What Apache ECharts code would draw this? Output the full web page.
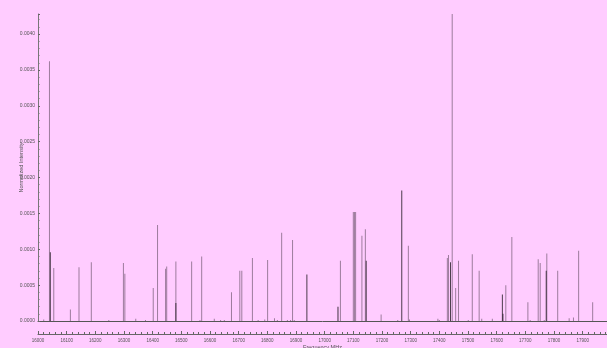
<!DOCTYPE html>
<html>
<head>
<meta charset="utf-8">
<script src="https://cdn.jsdelivr.net/npm/echarts@6/dist/echarts.min.js"></script>
<style>
  html, body { margin: 0; padding: 0; background: #ffccff; }
  #chart { width: 607px; height: 348px; }
</style>
</head>
<body>
<div id="chart"></div>
<script>
// stick spectrum, frequency in MHz
const lightFreq = [16020, 16040, 16055, 16113, 16143, 16186, 16247, 16298, 16303, 16341, 16375, 16402,
  16417, 16445, 16449, 16481, 16536, 16565, 16571, 16615, 16637, 16650, 16675, 16704, 16711, 16748,
  16768, 16791, 16801, 16825, 16835, 16850, 16870, 16881, 16888, 16894, 17045, 17048, 17055, 17100,
  17104, 17108, 17130, 17142, 17197, 17255, 17292, 17296, 17395, 17400, 17428, 17432, 17445, 17457,
  17467, 17501, 17515, 17539, 17548, 17585, 17632, 17653, 17709, 17717, 17745, 17752, 17766, 17775,
  17813, 17853, 17868, 17886, 17935];
const lightInt = [0.00002, 0.00362, 0.00074, 0.00016, 0.00075, 0.00082, 0.00001, 0.00081, 0.00066, 0.00003, 0.00001, 0.00046,
  0.00134, 0.00073, 0.00076, 0.00083, 0.00083, 0.00001, 0.00090, 0.00003, 0.00001, 0.00001, 0.00040, 0.00070, 0.00070, 0.00088,
  0.00001, 0.00002, 0.00085, 0.00004, 0.00001, 0.00123, 0.00001, 0.00001, 0.00113, 0.00001, 0.00020, 0.00020, 0.00084, 0.00152,
  0.00152, 0.00152, 0.00119, 0.00128, 0.00009, 0.00001, 0.00105, 0.00002, 0.00003, 0.00001, 0.00088, 0.00092, 0.00428, 0.00046,
  0.00084, 0.00001, 0.00093, 0.00070, 0.00003, 0.00003, 0.00050, 0.00117, 0.00026, 0.00001, 0.00086, 0.00081, 0.00001, 0.00094,
  0.00070, 0.00004, 0.00005, 0.00098, 0.00026];

const darkFreq = [16043, 16481, 16938, 17145, 17269, 17439, 17620, 17622, 17773];
const darkInt = [0.00096, 0.00025, 0.00065, 0.00084, 0.00182, 0.00082, 0.00037, 0.00010, 0.00070];

const xMin = 16000, xMax = 17985;
const yMax = 0.00428;

const chart = echarts.init(document.getElementById('chart'), null, { renderer: 'canvas' });

const labelFont = { fontFamily: 'Liberation Sans', color: '#555' };

chart.setOption({
  backgroundColor: '#ffccff',
  animation: false,
  grid: { left: 38, right: 0, top: 14, bottom: 27, containLabel: false, outerBoundsMode: 'none' },
  xAxis: [
    {
      type: 'value',
      min: xMin,
      max: xMax,
      interval: 100,
      offset: 13,
      name: 'Frequency MHz',
      nameLocation: 'middle',
      nameGap: 10,
      nameMoveOverlap: false,
      nameTextStyle: { ...labelFont, fontSize: 5.5 },
      axisLine: { onZero: false, lineStyle: { color: '#666', width: 1 } },
      axisTick: { inside: true, length: 3, lineStyle: { color: '#666' } },
      minorTick: { show: true, splitNumber: 5, length: 2, lineStyle: { color: '#666' } },
      axisLabel: { ...labelFont, fontSize: 4.5, margin: 4, showMaxLabel: false, formatter: v => String(v) },
      splitLine: { show: false }
    },
    {
      // zero baseline of the spectrum
      type: 'value',
      min: xMin,
      max: xMax,
      position: 'bottom',
      offset: 0,
      axisLine: { onZero: false, lineStyle: { color: '#555', width: 1 } },
      axisTick: { show: false },
      axisLabel: { show: false },
      splitLine: { show: false }
    }
  ],
  yAxis: {
    type: 'value',
    min: 0,
    max: yMax,
    interval: 0.0005,
    name: 'Normalized Intensity',
    nameLocation: 'middle',
    nameGap: 14,
    nameRotate: 90,
    nameMoveOverlap: false,
    nameTextStyle: { ...labelFont, fontSize: 5.5 },
    axisLine: { show: true, lineStyle: { color: '#777', width: 1 } },
    axisTick: { inside: true, length: 2, lineStyle: { color: '#666' } },
    minorTick: { show: true, splitNumber: 5, length: 1.5, lineStyle: { color: '#777' } },
    axisLabel: { ...labelFont, fontSize: 5, margin: 3, showMaxLabel: false, formatter: v => v.toFixed(4) },
    splitLine: { show: false }
  },
  series: [
    {
      name: 'light',
      type: 'bar',
      xAxisIndex: 0,
      barWidth: 1,
      barGap: '-100%',
      barMinHeight: 1,
      itemStyle: { color: 'rgba(60,45,60,0.5)' },
      data: lightFreq.map((f, i) => [f, lightInt[i]])
    },
    {
      name: 'dark',
      type: 'bar',
      xAxisIndex: 0,
      barWidth: 1,
      barGap: '-100%',
      barMinHeight: 1,
      itemStyle: { color: 'rgba(45,35,45,0.85)' },
      data: darkFreq.map((f, i) => [f, darkInt[i]])
    }
  ]
});
</script>
</body>
</html>
